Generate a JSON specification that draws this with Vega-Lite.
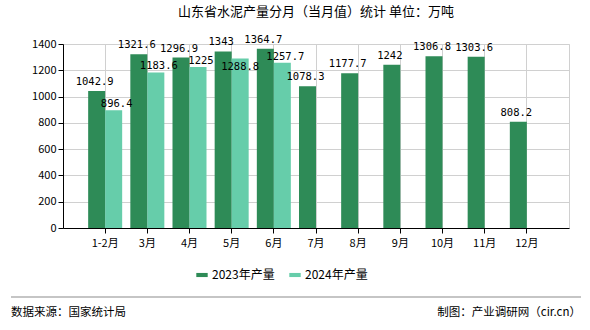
{
  "$schema": "https://vega.github.io/schema/vega-lite/v6.json",
  "width": 506,
  "height": 184,
  "padding": {"left": 10, "top": 5, "right": 10, "bottom": 5},
  "background": "white",
  "config": {
    "font": "Noto Sans CJK SC",
    "view": {"stroke": "#d0d0d0"}
  },
  "title": {
    "text": "山东省水泥产量分月（当月值）统计 单位：万吨",
    "fontSize": 13,
    "fontWeight": "normal",
    "color": "#000000",
    "anchor": "middle",
    "offset": 16
  },
  "data": {
    "values": [
      {"month": "1-2月", "series": "2023年产量", "value": 1042.9},
      {"month": "3月", "series": "2023年产量", "value": 1321.6},
      {"month": "4月", "series": "2023年产量", "value": 1296.9},
      {"month": "5月", "series": "2023年产量", "value": 1343},
      {"month": "6月", "series": "2023年产量", "value": 1364.7},
      {"month": "7月", "series": "2023年产量", "value": 1078.3},
      {"month": "8月", "series": "2023年产量", "value": 1177.7},
      {"month": "9月", "series": "2023年产量", "value": 1242},
      {"month": "10月", "series": "2023年产量", "value": 1306.8},
      {"month": "11月", "series": "2023年产量", "value": 1303.6},
      {"month": "12月", "series": "2023年产量", "value": 808.2},
      {"month": "1-2月", "series": "2024年产量", "value": 896.4},
      {"month": "3月", "series": "2024年产量", "value": 1183.6},
      {"month": "4月", "series": "2024年产量", "value": 1225},
      {"month": "5月", "series": "2024年产量", "value": 1288.8},
      {"month": "6月", "series": "2024年产量", "value": 1257.7}
    ]
  },
  "layer": [
    {
      "mark": {"type": "bar"},
      "encoding": {
        "x": {
          "field": "month", "type": "nominal",
          "sort": ["1-2月","3月","4月","5月","6月","7月","8月","9月","10月","11月","12月"],
          "scale": {"paddingInner": 0, "paddingOuter": 0.5},
          "axis": {
            "title": null, "labelAngle": 0, "labelFontSize": 11, "labelColor": "#000000",
            "domainColor": "#000000", "tickColor": "#000000", "tickBand": "center",
            "grid": true, "gridColor": "#d0d0d0", "labelPadding": 4
          }
        },
        "xOffset": {
          "field": "series", "type": "nominal",
          "scale": {"paddingInner": 0, "paddingOuter": 0.24}
        },
        "y": {
          "field": "value", "type": "quantitative",
          "scale": {"domain": [0, 1400]},
          "axis": {
            "title": null, "tickCount": 7, "format": "d", "labelFontSize": 11, "labelColor": "#000000",
            "domainColor": "#000000", "tickColor": "#000000", "gridColor": "#d0d0d0"
          }
        },
        "color": {
          "field": "series", "type": "nominal",
          "scale": {"domain": ["2023年产量", "2024年产量"], "range": ["#2E8B57", "#66CDAA"]},
          "legend": {
            "title": null, "orient": "none", "direction": "horizontal",
            "legendX": 133, "legendY": 225,
            "symbolType": "M-1,-0.36L1,-0.36L1,0.36L-1,0.36Z", "symbolSize": 130,
            "symbolStrokeWidth": 0, "labelFontSize": 12, "labelColor": "#000000",
            "columnPadding": 14
          }
        }
      }
    },
    {
      "transform": [{"filter": "datum.series == '2023年产量'"}],
      "mark": {"type": "text", "baseline": "bottom", "dy": -4, "dx": -2, "fontSize": 10.5, "font": "DejaVu Sans Mono", "color": "#000000"},
      "encoding": {
        "x": {"field": "month", "type": "nominal", "sort": ["1-2月","3月","4月","5月","6月","7月","8月","9月","10月","11月","12月"]},
        "xOffset": {"field": "series", "type": "nominal", "scale": {"domain": ["2023年产量", "2024年产量"]}},
        "y": {"field": "value", "type": "quantitative"},
        "text": {"field": "value", "type": "quantitative", "format": ".1~f"}
      }
    },
    {
      "transform": [{"filter": "datum.series == '2024年产量' && datum.month != '5月'"}],
      "mark": {"type": "text", "baseline": "bottom", "dy": -1, "dx": 3, "fontSize": 10.5, "font": "DejaVu Sans Mono", "color": "#000000"},
      "encoding": {
        "x": {"field": "month", "type": "nominal", "sort": ["1-2月","3月","4月","5月","6月","7月","8月","9月","10月","11月","12月"]},
        "xOffset": {"field": "series", "type": "nominal"},
        "y": {"field": "value", "type": "quantitative"},
        "text": {"field": "value", "type": "quantitative", "format": ".1~f"}
      }
    },
    {
      "transform": [{"filter": "datum.series == '2024年产量' && datum.month == '5月'"}],
      "mark": {"type": "text", "baseline": "top", "dy": 3, "fontSize": 10.5, "font": "DejaVu Sans Mono", "color": "#000000"},
      "encoding": {
        "x": {"field": "month", "type": "nominal", "sort": ["1-2月","3月","4月","5月","6月","7月","8月","9月","10月","11月","12月"]},
        "xOffset": {"field": "series", "type": "nominal"},
        "y": {"field": "value", "type": "quantitative"},
        "text": {"field": "value", "type": "quantitative", "format": ".1~f"}
      }
    },
    {
      "data": {"values": [{"t": "数据来源：国家统计局"}]},
      "mark": {"type": "text", "align": "left", "baseline": "middle", "fontSize": 11.5, "color": "#000000"},
      "encoding": {"text": {"field": "t"}, "x": {"value": -52}, "y": {"value": 269}}
    },
    {
      "data": {"values": [{"t": "制图：产业调研网（cir.cn）"}]},
      "mark": {"type": "text", "align": "right", "baseline": "middle", "fontSize": 11.5, "color": "#000000"},
      "encoding": {"text": {"field": "t"}, "x": {"value": 518}, "y": {"value": 269}}
    },
    {
      "data": {"values": [{"t": "footer line"}]},
      "mark": {"type": "rule", "stroke": "#8c8c8c", "strokeWidth": 1.2},
      "encoding": {"detail": {"field": "t"}, "x": {"value": -52}, "x2": {"value": 518}, "y": {"value": 253}}
    }
  ]
}
